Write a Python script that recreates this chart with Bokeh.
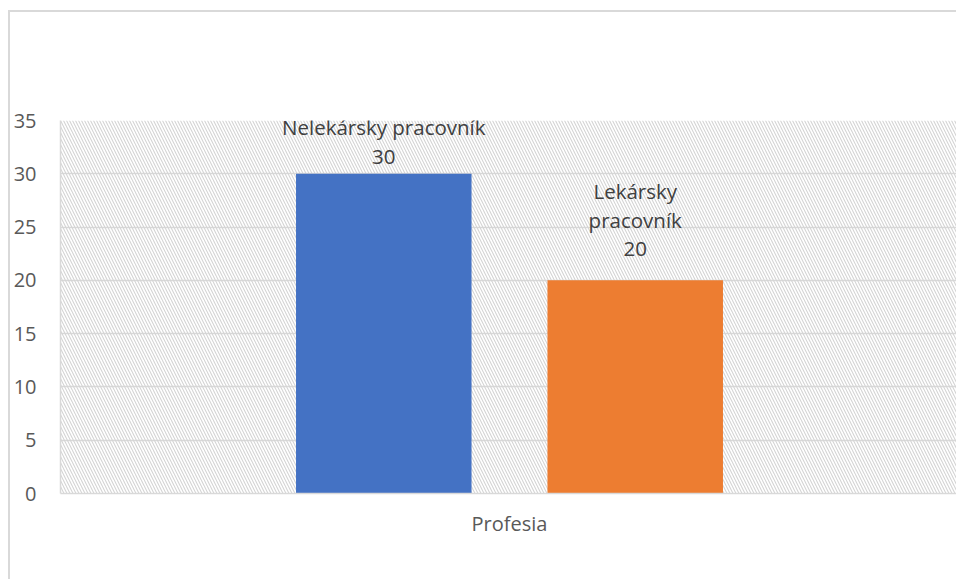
from bokeh.plotting import figure
from bokeh.models import ColumnDataSource, BoxAnnotation, FixedTicker, Range1d
from bokeh.core.properties import value
from bokeh.embed import file_html
from bokeh.resources import INLINE

categories = ["Nelekársky pracovník", "Lekársky pracovník"]
label_texts = ["Nelekársky pracovník", "Lekársky\npracovník"]
values = [30, 20]
colors = ["#4472C4", "#ED7D31"]
group_label = "Profesia"
y_ticks = [0, 5, 10, 15, 20, 25, 30, 35]

xs = list(range(len(categories)))
labels = [f"{t}\n{v}" for t, v in zip(label_texts, values)]
offsets = [-4, -18]

src = ColumnDataSource(dict(x=xs, top=values, color=colors, label=labels, yoff=offsets))

FONT = "Open Sans"

p = figure(width=948, height=569, output_backend="svg", toolbar_location=None,
           x_range=Range1d(-1.2857, 2.2857), y_range=Range1d(0, 35),
           min_border_left=40, min_border_right=0, min_border_top=108, min_border_bottom=88)
p.styles = {"margin-left": "8px", "margin-top": "10px",
            "border-left": "2px solid #d9d9d9", "border-top": "2px solid #d9d9d9"}

p.outline_line_color = None
p.background_fill_color = "white"
p.border_fill_color = "white"

hatch = BoxAnnotation(fill_alpha=0, line_color=None, hatch_pattern="\\",
                      hatch_color="#d4d4d4", hatch_scale=6, hatch_weight=1.1, level="underlay")
p.add_layout(hatch)

p.vbar(x="x", top="top", width=0.698, color="color", source=src, line_color=None)

p.text(x="x", y="top", text="label", source=src, y_offset="yoff",
       text_align="center", text_baseline="bottom", text_font=value(FONT),
       text_font_size="20.5px", text_color="#404040", text_line_height=1.03)

p.xgrid.visible = False
p.ygrid.grid_line_color = "#d9d9d9"
p.ygrid.grid_line_width = 1.5
p.yaxis.ticker = FixedTicker(ticks=y_ticks)
p.yaxis.axis_line_color = "#d9d9d9"
p.yaxis.axis_line_width = 1.5
p.yaxis.major_tick_line_color = None
p.yaxis.minor_tick_line_color = None
p.yaxis.major_tick_out = 0
p.yaxis.major_label_standoff = 24
p.yaxis.major_label_text_font = FONT
p.yaxis.major_label_text_font_size = "20px"
p.yaxis.major_label_text_color = "#595959"

center = sum(xs) / len(xs)
p.xaxis.ticker = FixedTicker(ticks=[center])
p.xaxis.major_label_overrides = {center: group_label}
p.xaxis.axis_line_color = "#d9d9d9"
p.xaxis.axis_line_width = 1.5
p.xaxis.major_tick_line_color = None
p.xaxis.minor_tick_line_color = None
p.xaxis.major_tick_out = 0
p.xaxis.major_label_standoff = 16
p.xaxis.major_label_text_font = FONT
p.xaxis.major_label_text_font_size = "20px"
p.xaxis.major_label_text_color = "#595959"

open("out.html", "w").write(file_html(p, INLINE))
